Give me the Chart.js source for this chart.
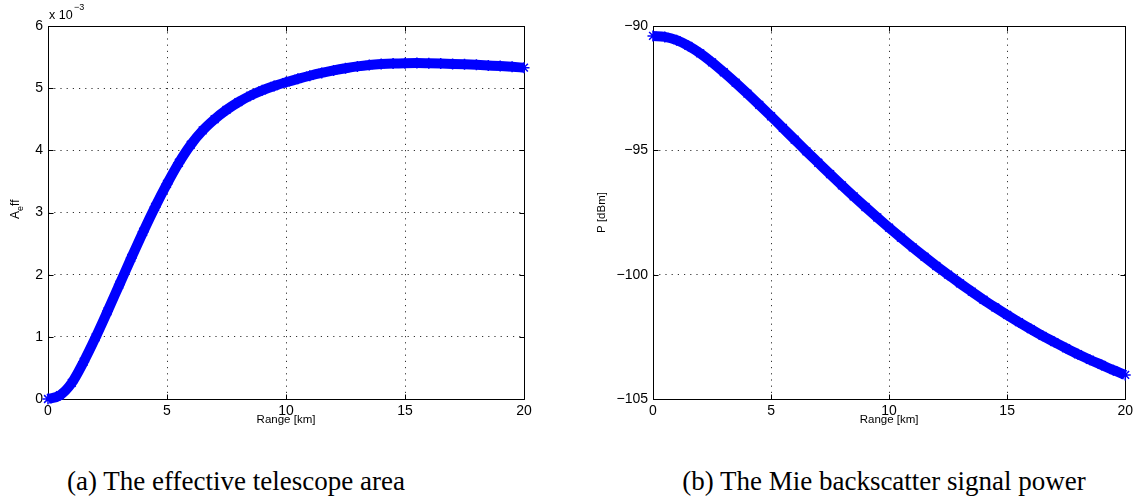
<!DOCTYPE html>
<html>
<head>
<meta charset="utf-8">
<script src="https://cdn.jsdelivr.net/npm/chart.js@4.4.1/dist/chart.umd.min.js"></script>
<style>
  html, body { margin: 0; padding: 0; background: #fff; }
  body { width: 1137px; height: 501px; position: relative; overflow: hidden; }
  .panel { position: absolute; top: 0; height: 440px; }
  .cap { position: absolute; top: 468px; font: 27px "Liberation Serif", serif; line-height: 27px;
         white-space: nowrap; transform: translateX(-50%); color: #000; }
</style>
</head>
<body>
<div class="panel" style="left:0;width:560px"><canvas id="areaChart"></canvas></div>
<div class="panel" style="left:580px;width:557px"><canvas id="powerChart"></canvas></div>
<div class="cap" style="left:236px">(a) The effective telescope area</div>
<div class="cap" style="left:884px">(b) The Mie backscatter signal power</div>
<script>
// range in km, read every 0.5 km off the plots
const rangeKm = [0, 0.5, 1, 1.5, 2, 2.5, 3, 3.5, 4, 4.5, 5, 5.5, 6, 6.5, 7, 7.5, 8, 8.5, 9, 9.5,
                 10, 10.5, 11, 11.5, 12, 12.5, 13, 13.5, 14, 14.5, 15, 15.5, 16, 16.5, 17, 17.5, 18, 18.5, 19, 19.5, 20];
// effective telescope area, units of 1e-3
const areaEff = [0, 0.06, 0.26, 0.6, 0.99, 1.41, 1.84, 2.27, 2.69, 3.09, 3.46, 3.8, 4.09, 4.32, 4.5, 4.65, 4.775, 4.88, 4.965, 5.035,
                 5.095, 5.15, 5.2, 5.245, 5.285, 5.32, 5.35, 5.372, 5.387, 5.397, 5.402, 5.403, 5.4, 5.396, 5.39, 5.383, 5.375, 5.365, 5.355, 5.343, 5.33];
// Mie backscatter power, dBm
const powerDbm = [-90.4, -90.44, -90.57, -90.8, -91.1, -91.46, -91.86, -92.28, -92.72, -93.17, -93.63, -94.1, -94.57, -95.04, -95.5,
                  -95.96, -96.41, -96.85, -97.28, -97.7, -98.11, -98.51, -98.9, -99.28, -99.65, -100.0, -100.35, -100.68, -101.01, -101.32,
                  -101.62, -101.91, -102.19, -102.46, -102.71, -102.96, -103.2, -103.42, -103.63, -103.84, -104.03];
const xTicks = [0, 5, 10, 15, 20];
const areaTicks = [0, 1, 2, 3, 4, 5, 6];
const powerTicks = [-105, -100, -95, -90];

const tickFont = { family: "Liberation Sans", size: 14 };
const titleFont = { family: "Liberation Sans", size: 11.5 };

// matlab-like box with inward ticks
const matlabBox = {
  id: "matlabBox",
  beforeDatasetsDraw(chart) {
    const { ctx, chartArea: a, scales } = chart;
    const L = Math.round(a.left) + 0.5, R = Math.round(a.right) + 0.5;
    const T = Math.round(a.top) + 0.5, B = Math.round(a.bottom) + 0.5;
    ctx.save();
    ctx.strokeStyle = "#000";
    ctx.lineWidth = 1;
    ctx.setLineDash([]);
    ctx.beginPath();
    ctx.rect(L, T, R - L, B - T);
    scales.x.ticks.forEach(t => {
      const px = Math.round(scales.x.getPixelForValue(t.value)) + 0.5;
      ctx.moveTo(px, B); ctx.lineTo(px, B - 5);
      ctx.moveTo(px, T); ctx.lineTo(px, T + 5);
    });
    scales.y.ticks.forEach(t => {
      const py = Math.round(scales.y.getPixelForValue(t.value)) + 0.5;
      ctx.moveTo(L, py); ctx.lineTo(L + 5, py);
      ctx.moveTo(R, py); ctx.lineTo(R - 5, py);
    });
    ctx.stroke();
    ctx.restore();
  }
};

// A_eff label and the x 10^-3 multiplier
const areaLabels = {
  id: "areaLabels",
  afterDraw(chart) {
    const { ctx } = chart;
    ctx.save();
    ctx.fillStyle = "#000";
    ctx.textBaseline = "alphabetic";
    ctx.font = "12.5px 'Liberation Sans'";
    ctx.fillText("x 10", 49, 19);
    ctx.font = "9px 'Liberation Sans'";
    ctx.fillText("\u22123", 74, 10);
    ctx.translate(19, 219);
    ctx.rotate(-Math.PI / 2);
    ctx.font = "12px 'Liberation Sans'";
    ctx.fillText("A", 0, 0);
    let w = ctx.measureText("A").width;
    ctx.font = "9px 'Liberation Sans'";
    ctx.fillText("e", w, 4);
    w += ctx.measureText("e").width;
    ctx.font = "12px 'Liberation Sans'";
    ctx.fillText("ff", w, 0);
    ctx.restore();
  }
};

function lineSet(ys) {
  return {
    data: rangeKm.map((x, i) => ({ x, y: ys[i] })),
    borderColor: "#0000ff",
    backgroundColor: "#0000ff",
    borderWidth: 10,
    pointStyle: "star",
    pointRadius: 5.5,
    pointBorderWidth: 1.5,
    pointBorderColor: "#0000ff",
    cubicInterpolationMode: "monotone",
    clip: 10
  };
}

function makeChart(id, ys, yTicks, yWidth, padRight, yTitle, extra, fmt) {
  const ctx = document.getElementById(id).getContext("2d");
  const gridOpts = { color: "#333", lineWidth: 1, drawTicks: false };
  const borderOpts = { display: false, dash: [1.2, 5] };
  return new Chart(ctx, {
    type: "line",
    data: { datasets: [lineSet(ys)] },
    options: {
      responsive: true,
      maintainAspectRatio: false,
      animation: false,
      events: [],
      layout: { padding: { top: 26, right: padRight, bottom: 0, left: 0 } },
      plugins: { legend: { display: false }, tooltip: { enabled: false } },
      scales: {
        x: {
          type: "linear",
          min: xTicks[0], max: xTicks[xTicks.length - 1],
          afterBuildTicks: s => { s.ticks = xTicks.map(v => ({ value: v })); },
          afterFit: s => { s.height = 41; },
          border: borderOpts,
          grid: gridOpts,
          ticks: { font: tickFont, color: "#000", padding: 4, maxRotation: 0 },
          title: { display: true, text: "Range [km]", font: titleFont, color: "#000", padding: { top: 0, bottom: 13 } }
        },
        y: {
          type: "linear",
          min: yTicks[0], max: yTicks[yTicks.length - 1],
          afterBuildTicks: s => { s.ticks = yTicks.map(v => ({ value: v })); },
          afterFit: s => { s.width = yWidth; },
          border: borderOpts,
          grid: gridOpts,
          ticks: { font: tickFont, color: "#000", padding: 5, callback: fmt },
          title: yTitle
        }
      }
    },
    plugins: [matlabBox].concat(extra)
  });
}

makeChart("areaChart", areaEff, areaTicks, 48, 36, { display: false }, [areaLabels], v => String(v));
makeChart("powerChart", powerDbm, powerTicks, 73, 11,
  { display: true, text: "P [dBm]", font: titleFont, color: "#000", padding: { top: 15, bottom: 0 } },
  [], v => String(v).replace("-", "\u2212"));
</script>
</body>
</html>
